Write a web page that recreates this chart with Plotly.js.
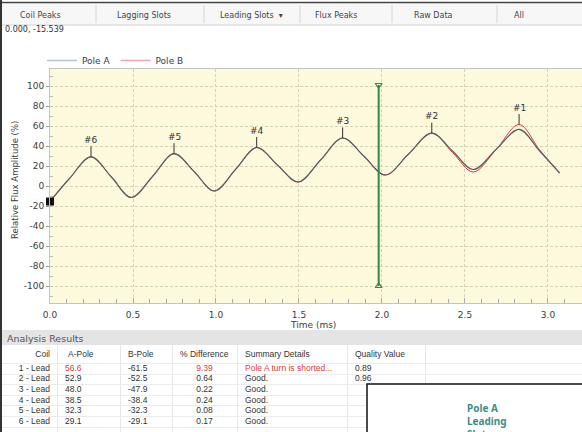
<!DOCTYPE html>
<html><head><meta charset="utf-8">
<script src="https://cdn.plot.ly/plotly-3.0.1.min.js"></script>
<style>html,body{margin:0;padding:0;background:#fff;overflow:hidden}#chart{width:582px;height:432px}</style>
</head><body><div id="chart"></div>
<script>
// ---- data ----
const timeA = [0.00, 0.12, 0.247, 0.37, 0.49, 0.62, 0.747, 0.87, 0.99, 1.12, 1.245, 1.37, 1.495, 1.63, 1.763, 1.89, 2.02, 2.16, 2.30, 2.425, 2.55, 2.69, 2.826, 2.95, 3.07];
const poleA = [-15.5, 8, 29.1, 9, -11.5, 10, 32.3, 14, -5, 17, 38.5, 21, 4, 26, 48.0, 30, 11, 32, 52.9, 35, 16.5, 37, 56.6, 35, 13];
const timeB = [0.00, 0.12, 0.247, 0.37, 0.49, 0.62, 0.747, 0.87, 0.99, 1.12, 1.245, 1.37, 1.495, 1.63, 1.763, 1.89, 2.02, 2.16, 2.30, 2.425, 2.55, 2.69, 2.826, 2.95, 3.07];
const poleB = [-15.5, 8, 29.1, 9, -11.5, 10, 32.3, 14, -5, 17, 38.5, 21, 4, 26, 48.0, 30, 11, 32, 52.9, 33.5, 14, 37, 61.5, 36, 13];
const peakLabels = ['#6', '#5', '#4', '#3', '#2', '#1'];
const peakTimes = [0.247, 0.747, 1.245, 1.763, 2.30, 2.826];
const peakValues = [29.1, 32.3, 38.5, 48.0, 52.9, 61.5];
const cursorTime = [1.98, 1.98];
const cursorValues = [101, -100];
const startTime = [0.0];
const startValue = [-15.539];
const xTicks = [0, 0.5, 1.0, 1.5, 2.0, 2.5, 3.0];
const xTickText = ['0.0', '0.5', '1.0', '1.5', '2.0', '2.5', '3.0'];
const yTicks = [-100, -80, -60, -40, -20, 0, 20, 40, 60, 80, 100];
const yTickText = ['-100', '-80', '-60', '-40', '-20', '0', '20', '40', '60', '80', '100'];
const tabLabels = ['Coil Peaks', 'Lagging Slots', 'Leading Slots  \u25BE', 'Flux Peaks', 'Raw Data', 'All'];
const tableHeader = ['Coil', 'A-Pole', 'B-Pole', '% Difference', 'Summary Details', 'Quality Value'];
const coils = ['1 - Lead', '2 - Lead', '3 - Lead', '4 - Lead', '5 - Lead', '6 - Lead'];
const aPole = ['56.6', '52.9', '48.0', '38.5', '32.3', '29.1'];
const bPole = ['-61.5', '-52.5', '-47.9', '-38.4', '-32.3', '-29.1'];
const pctDiff = ['9.39', '0.64', '0.22', '0.24', '0.08', '0.17'];
const summary = ['Pole A turn is shorted...', 'Good.', 'Good.', 'Good.', 'Good.', 'Good.'];
const quality = ['0.89', '0.96', '', '', '', ''];
const rowFlags = [true, false, false, false, false, false];

// ---- helpers (pixel -> paper) ----
const W = 582, H = 432;
const px = x => x / W;
const py = y => 1 - y / H;
const FONT = 'DejaVu Sans, Verdana, sans-serif';
const TFONT = 'Liberation Sans, Arial, sans-serif';
const GRAY = '#3c3c3c';
const RED = '#e23a3a';

const traces = [];
// legend-only entries
traces.push({x: [null], y: [null], type: 'scatter', mode: 'lines', name: 'Pole A', line: {color: '#b9c0de', width: 1.5}, showlegend: true});
traces.push({x: [null], y: [null], type: 'scatter', mode: 'lines', name: 'Pole B', line: {color: '#f2a3b3', width: 1.5}, showlegend: true});
// curves
traces.push({x: timeB, y: poleB, type: 'scatter', mode: 'lines', line: {color: '#e0303f', width: 1.0, shape: 'spline', smoothing: 1}, showlegend: false, hoverinfo: 'skip'});
traces.push({x: timeA, y: poleA, type: 'scatter', mode: 'lines', line: {color: '#5a5c63', width: 1.2, shape: 'spline', smoothing: 1}, showlegend: false, hoverinfo: 'skip'});
// cursor
traces.push({x: cursorTime, y: cursorValues, type: 'scatter', mode: 'lines+markers', line: {color: '#2e8b45', width: 2}, marker: {symbol: ['triangle-down-open', 'triangle-up-open'], size: 6, color: '#2e8b45', line: {width: 1.2, color: '#2e8b45'}}, showlegend: false, hoverinfo: 'skip', cliponaxis: false});
// start point marker
traces.push({x: startTime, y: startValue, type: 'scatter', mode: 'markers', marker: {symbol: 'square', size: 8, color: '#111'}, showlegend: false, cliponaxis: false, hoverinfo: 'skip'});

// ---- results table drawn as text on a second (pixel-unit x / row-index y) subplot ----
const rowIdx = coils.map((c, i) => i);
const HEADER_ROW = -1.3;
const colAnchor = [50, 65, 128, 204.5, 245, 355];
const colPos = ['middle left', 'middle right', 'middle right', 'middle center', 'middle right', 'middle right'];
const headPos = ['middle left', 'middle right', 'middle right', 'middle right', 'middle right', 'middle right'];
const headAnchor = [50, 68, 128, 180, 245, 355];
const columns = [coils, aPole, bPole, pctDiff, summary, quality];
const redCols = [false, true, false, true, true, false];
columns.forEach((col, ci) => {
  traces.push({
    type: 'scatter', mode: 'text', xaxis: 'x2', yaxis: 'y2',
    x: col.map(() => colAnchor[ci]), y: rowIdx, text: col,
    textposition: colPos[ci], cliponaxis: false, showlegend: false, hoverinfo: 'skip',
    textfont: {family: TFONT, size: 8.5, color: col.map((v, ri) => (rowFlags[ri] && redCols[ci]) ? RED : '#333')}
  });
});
traces.push({
  type: 'scatter', mode: 'text', xaxis: 'x2', yaxis: 'y2',
  x: headAnchor, y: tableHeader.map(() => HEADER_ROW), text: tableHeader,
  textposition: headPos, cliponaxis: false, showlegend: false, hoverinfo: 'skip',
  textfont: {family: TFONT, size: 8.5, color: '#333'}
});

const shapes = [];
const annotations = [];
// plot background
shapes.push({type: 'rect', xref: 'x domain', yref: 'y domain', x0: 0, x1: 1, y0: 0, y1: 1, fillcolor: '#fcf9dd', line: {width: 0}, layer: 'below'});
// toolbar
shapes.push({type: 'rect', xref: 'paper', yref: 'paper', x0: 0, x1: 1, y0: py(25), y1: py(3), fillcolor: '#f7f7f7', line: {width: 0}, layer: 'below'});
shapes.push({type: 'line', xref: 'paper', yref: 'paper', x0: 0, x1: 1, y0: py(2.5), y1: py(2.5), line: {color: '#444', width: 1.5}});
shapes.push({type: 'line', xref: 'paper', yref: 'paper', x0: 0, x1: 1, y0: py(25), y1: py(25), line: {color: '#d2d2d2', width: 1}});
const tabSeps = [96, 204, 300, 392, 497];
const tabStarts = [18, 115, 218, 313, 412, 512];
tabSeps.forEach(s => shapes.push({type: 'line', xref: 'paper', yref: 'paper', x0: px(s), x1: px(s), y0: py(5), y1: py(23), line: {color: '#d6d6d6', width: 1}}));
tabLabels.forEach((t, i) => annotations.push({xref: 'paper', yref: 'paper', x: px(tabStarts[i]), y: py(15.5), xanchor: 'left', yanchor: 'middle', text: t, showarrow: false, font: {family: FONT, size: 8, color: '#444'}}));
// left border
shapes.push({type: 'line', xref: 'paper', yref: 'paper', x0: px(1), x1: px(1), y0: 0, y1: 1, line: {color: '#333', width: 2}});
// status text
annotations.push({xref: 'paper', yref: 'paper', x: px(3), y: py(29.5), xanchor: 'left', yanchor: 'middle', text: startTime[0].toFixed(3) + ', ' + startValue[0].toFixed(3), showarrow: false, font: {family: FONT, size: 8, color: '#333'}});
// analysis results bar
shapes.push({type: 'rect', xref: 'paper', yref: 'paper', x0: px(2), x1: 1, y0: py(345), y1: py(330), fillcolor: '#e4e4e4', line: {width: 0}});
annotations.push({xref: 'paper', yref: 'paper', x: px(5), y: py(338.5), xanchor: 'left', yanchor: 'middle', text: 'Analysis Results', showarrow: false, font: {family: FONT, size: 9.5, color: '#555'}});
// axis titles
annotations.push({xref: 'paper', yref: 'paper', x: px(313), y: py(325), xanchor: 'center', yanchor: 'middle', text: 'Time (ms)', showarrow: false, font: {family: FONT, size: 9, color: GRAY}});
annotations.push({xref: 'paper', yref: 'paper', x: px(15), y: py(180), xanchor: 'center', yanchor: 'middle', textangle: -90, text: 'Relative Flux Amplitude (%)', showarrow: false, font: {family: FONT, size: 8.5, color: GRAY}});
// peak labels
peakLabels.forEach((lab, i) => annotations.push({x: peakTimes[i], y: peakValues[i], xref: 'x', yref: 'y', text: lab, showarrow: true, arrowhead: 0, arrowwidth: 1, arrowcolor: '#333', ax: 0, ay: -17, font: {family: FONT, size: 9, color: '#333'}}));
// popup
shapes.push({type: 'rect', xref: 'paper', yref: 'paper', x0: px(367), x1: px(600), y0: py(450), y1: py(384), fillcolor: '#ffffff', line: {color: '#111', width: 1.5}, layer: 'above'});
annotations.push({xref: 'paper', yref: 'paper', x: px(465), y: py(399), xanchor: 'left', yanchor: 'top', align: 'left', text: '<b>Pole A<br>Leading<br>Slots</b>', showarrow: false, font: {family: 'Noto Sans, sans-serif', size: 10, color: '#3e8c89'}});

const layout = {
  width: W, height: H,
  margin: {l: 0, r: 0, t: 0, b: 0},
  paper_bgcolor: '#ffffff',
  plot_bgcolor: 'rgba(0,0,0,0)',
  showlegend: true,
  legend: {orientation: 'h', x: px(42), y: py(46), xanchor: 'left', yanchor: 'top', font: {family: FONT, size: 9, color: GRAY}, bgcolor: 'rgba(0,0,0,0)', itemwidth: 30, tracegroupgap: 0},
  xaxis: {
    domain: [px(50), 1], range: [0, 3.205], automargin: false,
    tickvals: xTicks, ticktext: xTickText, ticks: 'inside', ticklen: 5, tickcolor: '#aaa',
    minor: {dtick: 0.1, ticks: 'inside', ticklen: 4, tickcolor: '#aaa', showgrid: false},
    showgrid: true, gridcolor: '#d6d2b4', griddash: '3px,2px', gridwidth: 1,
    showline: true, linecolor: '#c4c4c4', mirror: true, zeroline: false,
    tickfont: {family: FONT, size: 9, color: GRAY}, ticklabelstandoff: 3
  },
  yaxis: {
    domain: [py(303), py(69)], range: [-117, 117], automargin: false,
    tickvals: yTicks, ticktext: yTickText, ticks: 'outside', ticklen: 3, tickcolor: '#999',
    minor: {dtick: 10, ticks: 'inside', ticklen: 3, tickcolor: '#bbb', showgrid: false},
    showgrid: true, gridcolor: '#d6d2b4', griddash: '3px,2px', gridwidth: 1,
    showline: true, linecolor: '#c4c4c4', mirror: false, zeroline: false,
    tickfont: {family: FONT, size: 9, color: GRAY}
  },
  xaxis2: {
    domain: [0, 1], range: [0, 582], anchor: 'y2', automargin: false,
    tickvals: [57, 120, 172, 237, 347, 425], showticklabels: false, ticks: '',
    showgrid: true, gridcolor: '#e6e6e6', gridwidth: 1, zeroline: false, showline: false
  },
  yaxis2: {
    domain: [0, py(345)], range: [5.97, -2.24], anchor: 'x2', automargin: false,
    tickvals: [-0.5, 0.5, 1.5, 2.5, 3.5, 4.5, 5.5], showticklabels: false, ticks: '',
    showgrid: true, gridcolor: '#ececec', gridwidth: 1, zeroline: false, showline: false
  },
  shapes: shapes,
  annotations: annotations
};
Plotly.newPlot('chart', traces, layout, {staticPlot: true, displayModeBar: false});
</script></body></html>
